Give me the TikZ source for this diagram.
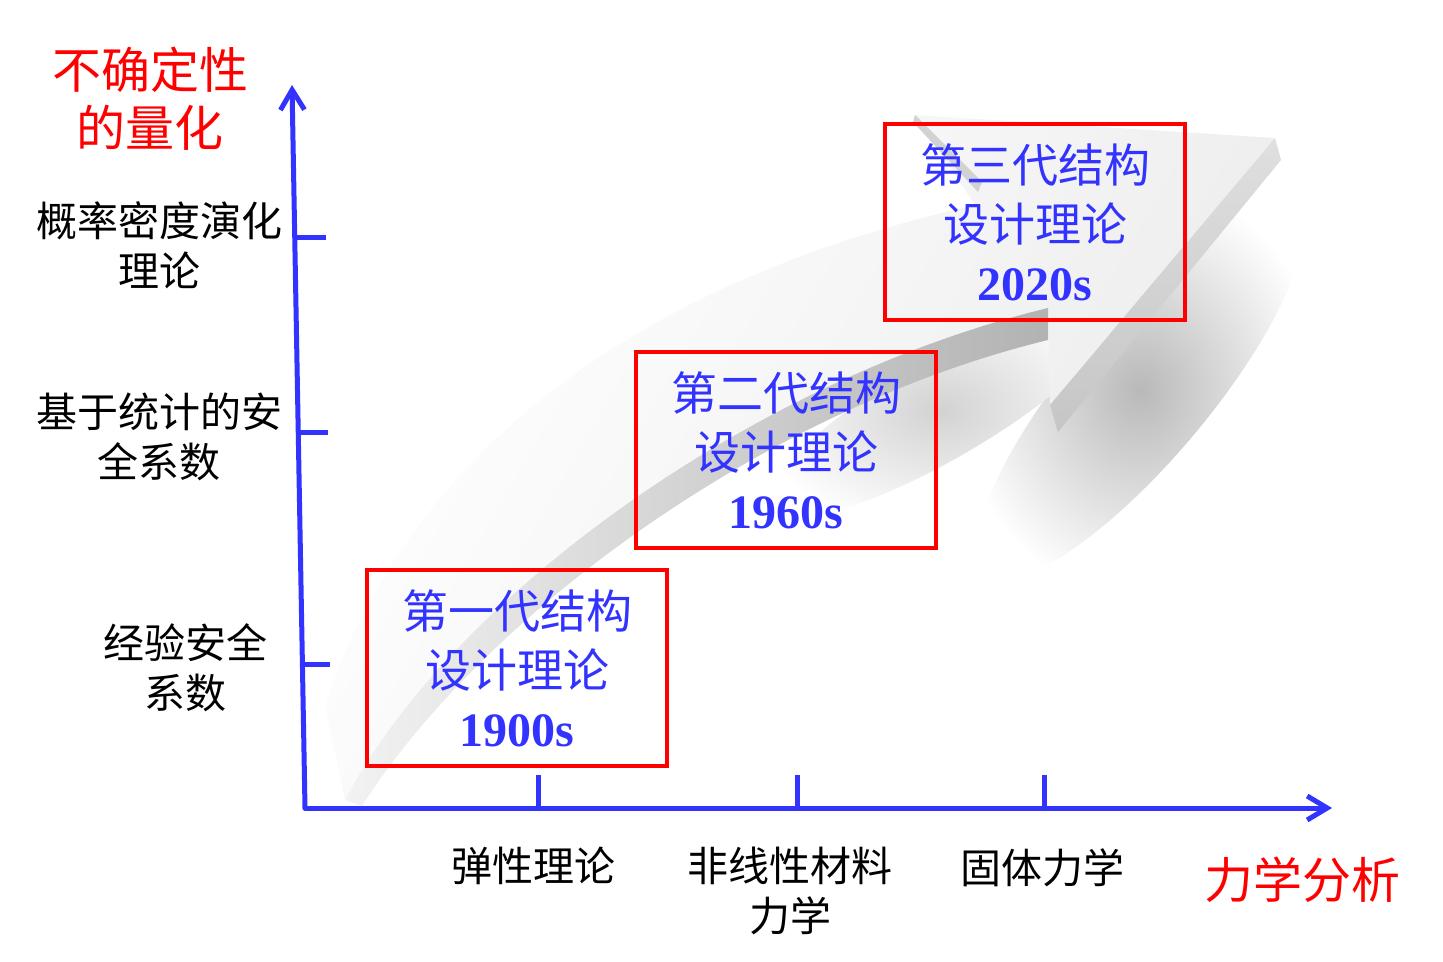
\documentclass[tikz,border=0pt]{standalone}
\usepackage{fontspec}
\setmainfont{Liberation Serif}
\newfontfamily\cjk{Noto Sans CJK SC}
\usetikzlibrary{arrows.meta}
\definecolor{axisblue}{RGB}{51,51,255}
\definecolor{boxred}{RGB}{255,0,0}
\newcommand\yrfont{\rmfamily\bfseries\fontsize{24}{29.5}\selectfont}
\tikzset{>={Straight Barb[length=10pt,width=12pt]}}
\tikzset{
    axis/.style={line width=2.5pt, draw=axisblue, line cap=round, ->},
    tickmark/.style={line width=2.5pt, draw=axisblue},
    gen/.style={draw=boxred, line width=1.8pt, minimum width=150pt, minimum height=98pt,
        align=center, text=axisblue, inner sep=0pt, font=\cjk\fontsize{23}{29.5}\selectfont},
    lab/.style={align=center, font=\cjk\fontsize{20.5}{25}\selectfont},
    redlab/.style={align=center, text=boxred, font=\cjk\fontsize{24.5}{29}\selectfont}
}

\begin{document}
\begin{tikzpicture}[x=0.5pt, y=-0.5pt]
    \useasboundingbox (0,0) rectangle (1443,962);
    % shadow of the big arrow
    \shade[inner color=gray!55, outer color=white, rotate around={50:(1140,390)}]
        (1140,390) ellipse [x radius=240, y radius=70];
    \shade[inner color=gray!35, outer color=white, rotate around={30:(940,410)}]
        (940,410) ellipse [x radius=200, y radius=50];
    % big arrow, top face
    \shade[left color=white, right color=gray!16, shading angle=60]
        (325,705) .. controls (400,480) and (600,290) .. (975,205) -- (915,115)
        -- (1275,138) -- (1050,405) -- (1048,308)
        .. controls (750,380) and (450,600) .. (345,800) -- cycle;
    % big arrow, side faces
    \shade[left color=gray!10, right color=gray!60]
        (1048,308) .. controls (750,380) and (450,600) .. (345,800)
        -- (362,806) .. controls (480,620) and (760,410) .. (1048,340) -- cycle;
    \shade[top color=gray!25, bottom color=gray!45]
        (1275,138) -- (1281,160) -- (1058,432) -- (1050,405) -- cycle;
    \fill[gray!35] (915,115) -- (982,182) -- (978,192) -- (913,122) -- cycle;
    % axes
    \coordinate (o) at (305,808);
    \coordinate (ytop) at (292,85);
    \coordinate (xend) at (1332,808);
    \draw[axis] (o) -- (ytop);
    \draw[axis] (o) -- (xend);
    \draw[tickmark] (295,238) -- (326,238);
    \draw[tickmark] (298,432) -- (328,432);
    \draw[tickmark] (302,664) -- (330,664);
    \foreach \x in {538,797,1044}
        \draw[tickmark] (\x,808) -- (\x,775);
    % axis labels
    \node[redlab] (yname) at (150,99) {不确定性\\的量化};
    \node[redlab] (xname) at (1302,880) {力学分析};
    \node[lab] (y3) at (159,245) {概率密度演化\\理论};
    \node[lab] (y2) at (159,437) {基于统计的安\\全系数};
    \node[lab] (y1) at (185,668) {经验安全\\系数};
    \node[lab] (x1) at (533,866) {弹性理论};
    \node[lab] (x2) at (790,891) {非线性材料\\力学};
    \node[lab] (x3) at (1042,868) {固体力学};
    % generations
    \node[gen] (g1) at (517,668) {第一代结构\\设计理论\\{\yrfont 1900s}};
    \node[gen] (g2) at (786,450) {第二代结构\\设计理论\\{\yrfont 1960s}};
    \node[gen] (g3) at (1035,222) {第三代结构\\设计理论\\{\yrfont 2020s}};
\end{tikzpicture}
\end{document}
